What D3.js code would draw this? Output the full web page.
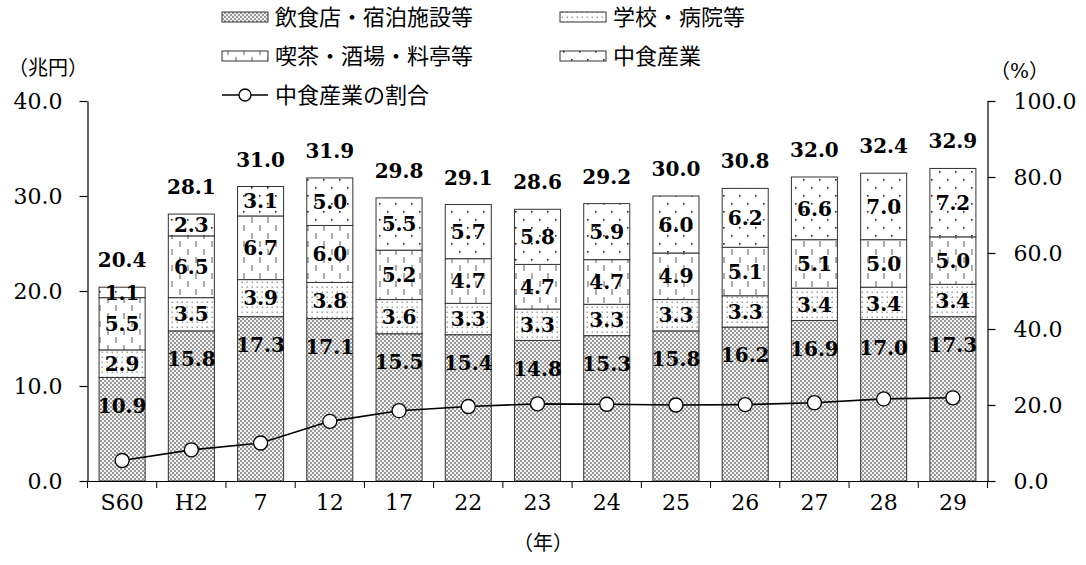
<!DOCTYPE html>
<html>
<head>
<meta charset="utf-8">
<script src="https://cdn.jsdelivr.net/npm/d3@7"></script>
<style>
  html, body { margin: 0; padding: 0; background: #fff; }
  svg { display: block; }
</style>
</head>
<body>
<svg id="chart" width="1086" height="565"></svg>
<script>
// ---------- data ----------
const categories = ["S60", "H2", "7", "12", "17", "22", "23", "24", "25", "26", "27", "28", "29"];
const seriesNames = ["飲食店・宿泊施設等", "学校・病院等", "喫茶・酒場・料亭等", "中食産業"];
const restaurantsHotels = [10.9, 15.8, 17.3, 17.1, 15.5, 15.4, 14.8, 15.3, 15.8, 16.2, 16.9, 17.0, 17.3];
const schoolsHospitals  = [2.9, 3.5, 3.9, 3.8, 3.6, 3.3, 3.3, 3.3, 3.3, 3.3, 3.4, 3.4, 3.4];
const cafesBars         = [5.5, 6.5, 6.7, 6.0, 5.2, 4.7, 4.7, 4.7, 4.9, 5.1, 5.1, 5.0, 5.0];
const nakashoku         = [1.1, 2.3, 3.1, 5.0, 5.5, 5.7, 5.8, 5.9, 6.0, 6.2, 6.6, 7.0, 7.2];
const totals            = [20.4, 28.1, 31.0, 31.9, 29.8, 29.1, 28.6, 29.2, 30.0, 30.8, 32.0, 32.4, 32.9];
const nakashokuShare    = [5.4, 8.2, 10.0, 15.7, 18.5, 19.6, 20.3, 20.2, 20.0, 20.1, 20.6, 21.6, 21.9];
const leftTicks  = [0, 10, 20, 30, 40];
const rightTicks = [0, 20, 40, 60, 80, 100];
const lineName = "中食産業の割合";

// ---------- setup ----------
const svg = d3.select("#chart");
const NUM = "'DejaVu Serif', 'Liberation Serif', serif";
const JP = "'DejaVu Serif', 'Noto Sans CJK JP', sans-serif";

const plotL = 87.5, plotR = 987.5, plotT = 101, plotB = 481;
const x = d3.scaleBand().domain(categories).range([plotL, plotR]).padding(0);
const yL = d3.scaleLinear().domain([0, 40]).range([plotB, plotT]);
const yR = d3.scaleLinear().domain([0, 100]).range([plotB, plotT]);

// ---------- patterns ----------
const defs = svg.append("defs");
// checker (飲食店)
const p0 = defs.append("pattern").attr("id", "pat0").attr("patternUnits", "userSpaceOnUse")
  .attr("width", 4).attr("height", 4);
p0.append("rect").attr("width", 4).attr("height", 4).attr("fill", "#f2f2f2");
p0.append("rect").attr("x", 0).attr("y", 0).attr("width", 2).attr("height", 2).attr("fill", "#9a9a9a");
p0.append("rect").attr("x", 2).attr("y", 2).attr("width", 2).attr("height", 2).attr("fill", "#9a9a9a");
// fine gray dots (学校)
const p1 = defs.append("pattern").attr("id", "pat1").attr("patternUnits", "userSpaceOnUse")
  .attr("width", 5).attr("height", 5);
p1.append("rect").attr("width", 5).attr("height", 5).attr("fill", "#ffffff");
p1.append("rect").attr("x", 1.5).attr("y", 1.5).attr("width", 1.5).attr("height", 1.5).attr("fill", "#a0a0a0");
// vertical dashes (喫茶)
const p2 = defs.append("pattern").attr("id", "pat2").attr("patternUnits", "userSpaceOnUse")
  .attr("width", 16).attr("height", 16);
p2.append("rect").attr("width", 16).attr("height", 16).attr("fill", "#ffffff");
p2.append("line").attr("x1", 4).attr("x2", 4).attr("y1", 1).attr("y2", 7).attr("stroke", "#8a8a8a").attr("stroke-width", 1.4);
p2.append("line").attr("x1", 12).attr("x2", 12).attr("y1", 9).attr("y2", 15).attr("stroke", "#8a8a8a").attr("stroke-width", 1.4);
// sparse black dots (中食)
const p3 = defs.append("pattern").attr("id", "pat3").attr("patternUnits", "userSpaceOnUse")
  .attr("width", 16).attr("height", 16);
p3.append("rect").attr("width", 16).attr("height", 16).attr("fill", "#ffffff");
p3.append("rect").attr("x", 3).attr("y", 3).attr("width", 1.6).attr("height", 1.6).attr("fill", "#222");
p3.append("rect").attr("x", 11).attr("y", 11).attr("width", 1.6).attr("height", 1.6).attr("fill", "#222");
const fills = ["url(#pat0)", "url(#pat1)", "url(#pat2)", "url(#pat3)"];

// ---------- stacked bars ----------
const rows = categories.map((c, i) => ({
  cat: c,
  s0: restaurantsHotels[i], s1: schoolsHospitals[i], s2: cafesBars[i], s3: nakashoku[i]
}));
const stack = d3.stack().keys(["s0", "s1", "s2", "s3"])(rows);
const barW = x.bandwidth() * 0.665;
const barX = c => x(c) + (x.bandwidth() - barW) / 2;

const gBars = svg.append("g");
stack.forEach((layer, li) => {
  gBars.append("g").selectAll("rect").data(layer).join("rect")
    .attr("x", d => barX(d.data.cat))
    .attr("y", d => yL(d[1]))
    .attr("width", barW)
    .attr("height", d => yL(d[0]) - yL(d[1]))
    .attr("fill", fills[li])
    .attr("stroke", "#333")
    .attr("stroke-width", 1);
});

// ---------- line ----------
const cx = c => x(c) + x.bandwidth() / 2;
const line = d3.line().x((d, i) => cx(categories[i])).y(d => yR(d));
svg.append("path").datum(nakashokuShare)
  .attr("d", line).attr("fill", "none").attr("stroke", "#000").attr("stroke-width", 1.6);
svg.append("g").selectAll("circle").data(nakashokuShare).join("circle")
  .attr("cx", (d, i) => cx(categories[i])).attr("cy", d => yR(d))
  .attr("r", 7).attr("fill", "#fff").attr("stroke", "#000").attr("stroke-width", 1.3);

// segment labels
stack.forEach((layer, li) => {
  gBars.append("g").selectAll("text").data(layer).join("text")
    .attr("x", d => x(d.data.cat) + x.bandwidth() / 2)
    .attr("y", d => li === 0 ? yL(d[1]) + 28 : (yL(d[0]) + yL(d[1])) / 2)
    .attr("dy", "0.36em")
    .attr("text-anchor", "middle")
    .attr("font-family", NUM)
    .attr("font-weight", "bold")
    .attr("font-size", 20)
    .attr("fill", "#000")
    .text(d => (d[1] - d[0]).toFixed(1));
});
// totals
gBars.append("g").selectAll("text").data(categories).join("text")
  .attr("x", c => x(c) + x.bandwidth() / 2)
  .attr("y", (c, i) => yL(totals[i]) - 20)
  .attr("text-anchor", "middle")
  .attr("font-family", NUM)
  .attr("font-weight", "bold")
  .attr("font-size", 20)
  .attr("fill", "#000")
  .text((c, i) => totals[i].toFixed(1));

// ---------- axes ----------
const axL = svg.append("g").attr("transform", `translate(${plotL},0)`)
  .call(d3.axisLeft(yL).tickValues(leftTicks).tickFormat(d3.format(".1f")).tickSize(8).tickSizeOuter(0).tickPadding(17));
const axR = svg.append("g").attr("transform", `translate(${plotR},0)`)
  .call(d3.axisRight(yR).tickValues(rightTicks).tickFormat(d3.format(".1f")).tickSize(8).tickSizeOuter(0).tickPadding(18));
const axB = svg.append("g").attr("transform", `translate(0,${plotB})`)
  .call(d3.axisBottom(x).tickSize(0).tickSizeOuter(0).tickPadding(13));
// boundary ticks on x axis
const bounds = categories.map(c => x(c)).concat([x(categories[categories.length - 1]) + x.step()]);
axB.append("g").selectAll("line").data(bounds).join("line")
  .attr("x1", d => d).attr("x2", d => d).attr("y1", 0).attr("y2", 7)
  .attr("stroke", "#000").attr("stroke-width", 1);

[axL, axR, axB].forEach(a => {
  a.selectAll("path.domain").attr("stroke", "#000").attr("stroke-width", 1.2);
  a.selectAll(".tick line").attr("stroke", "#000").attr("stroke-width", 1.2);
  a.selectAll(".tick text").attr("font-family", NUM).attr("font-size", 22).attr("fill", "#000");
});

// ---------- axis titles ----------
svg.append("text").attr("x", 8).attr("y", 68).attr("dy", "0.36em")
  .attr("font-family", JP).attr("font-size", 20).attr("fill", "#000").text("（兆円）");
svg.append("text").attr("x", 990).attr("y", 71).attr("dy", "0.36em")
  .attr("font-family", JP).attr("font-size", 20).attr("fill", "#000").text("（%）");
svg.append("text").attr("x", 543).attr("y", 543).attr("dy", "0.36em").attr("text-anchor", "middle")
  .attr("font-family", JP).attr("font-size", 20).attr("fill", "#000").text("（年）");

// ---------- legend ----------
const legendItems = [
  { name: seriesNames[0], fill: fills[0], lx: 222, ly: 17 },
  { name: seriesNames[1], fill: fills[1], lx: 560, ly: 17 },
  { name: seriesNames[2], fill: fills[2], lx: 222, ly: 56 },
  { name: seriesNames[3], fill: fills[3], lx: 560, ly: 56 }
];
const gLeg = svg.append("g");
legendItems.forEach(it => {
  gLeg.append("rect").attr("x", it.lx).attr("y", it.ly - 5).attr("width", 46).attr("height", 10)
    .attr("fill", it.fill).attr("stroke", "#333").attr("stroke-width", 1);
  gLeg.append("text").attr("x", it.lx + 53).attr("y", it.ly).attr("dy", "0.36em")
    .attr("font-family", JP).attr("font-size", 22).attr("fill", "#000").text(it.name);
});
gLeg.append("line").attr("x1", 222).attr("x2", 268).attr("y1", 95).attr("y2", 95)
  .attr("stroke", "#000").attr("stroke-width", 1.6);
gLeg.append("circle").attr("cx", 245).attr("cy", 95).attr("r", 6)
  .attr("fill", "#fff").attr("stroke", "#000").attr("stroke-width", 1.3);
gLeg.append("text").attr("x", 275).attr("y", 95).attr("dy", "0.36em")
  .attr("font-family", JP).attr("font-size", 22).attr("fill", "#000").text(lineName);
</script>
</body>
</html>
